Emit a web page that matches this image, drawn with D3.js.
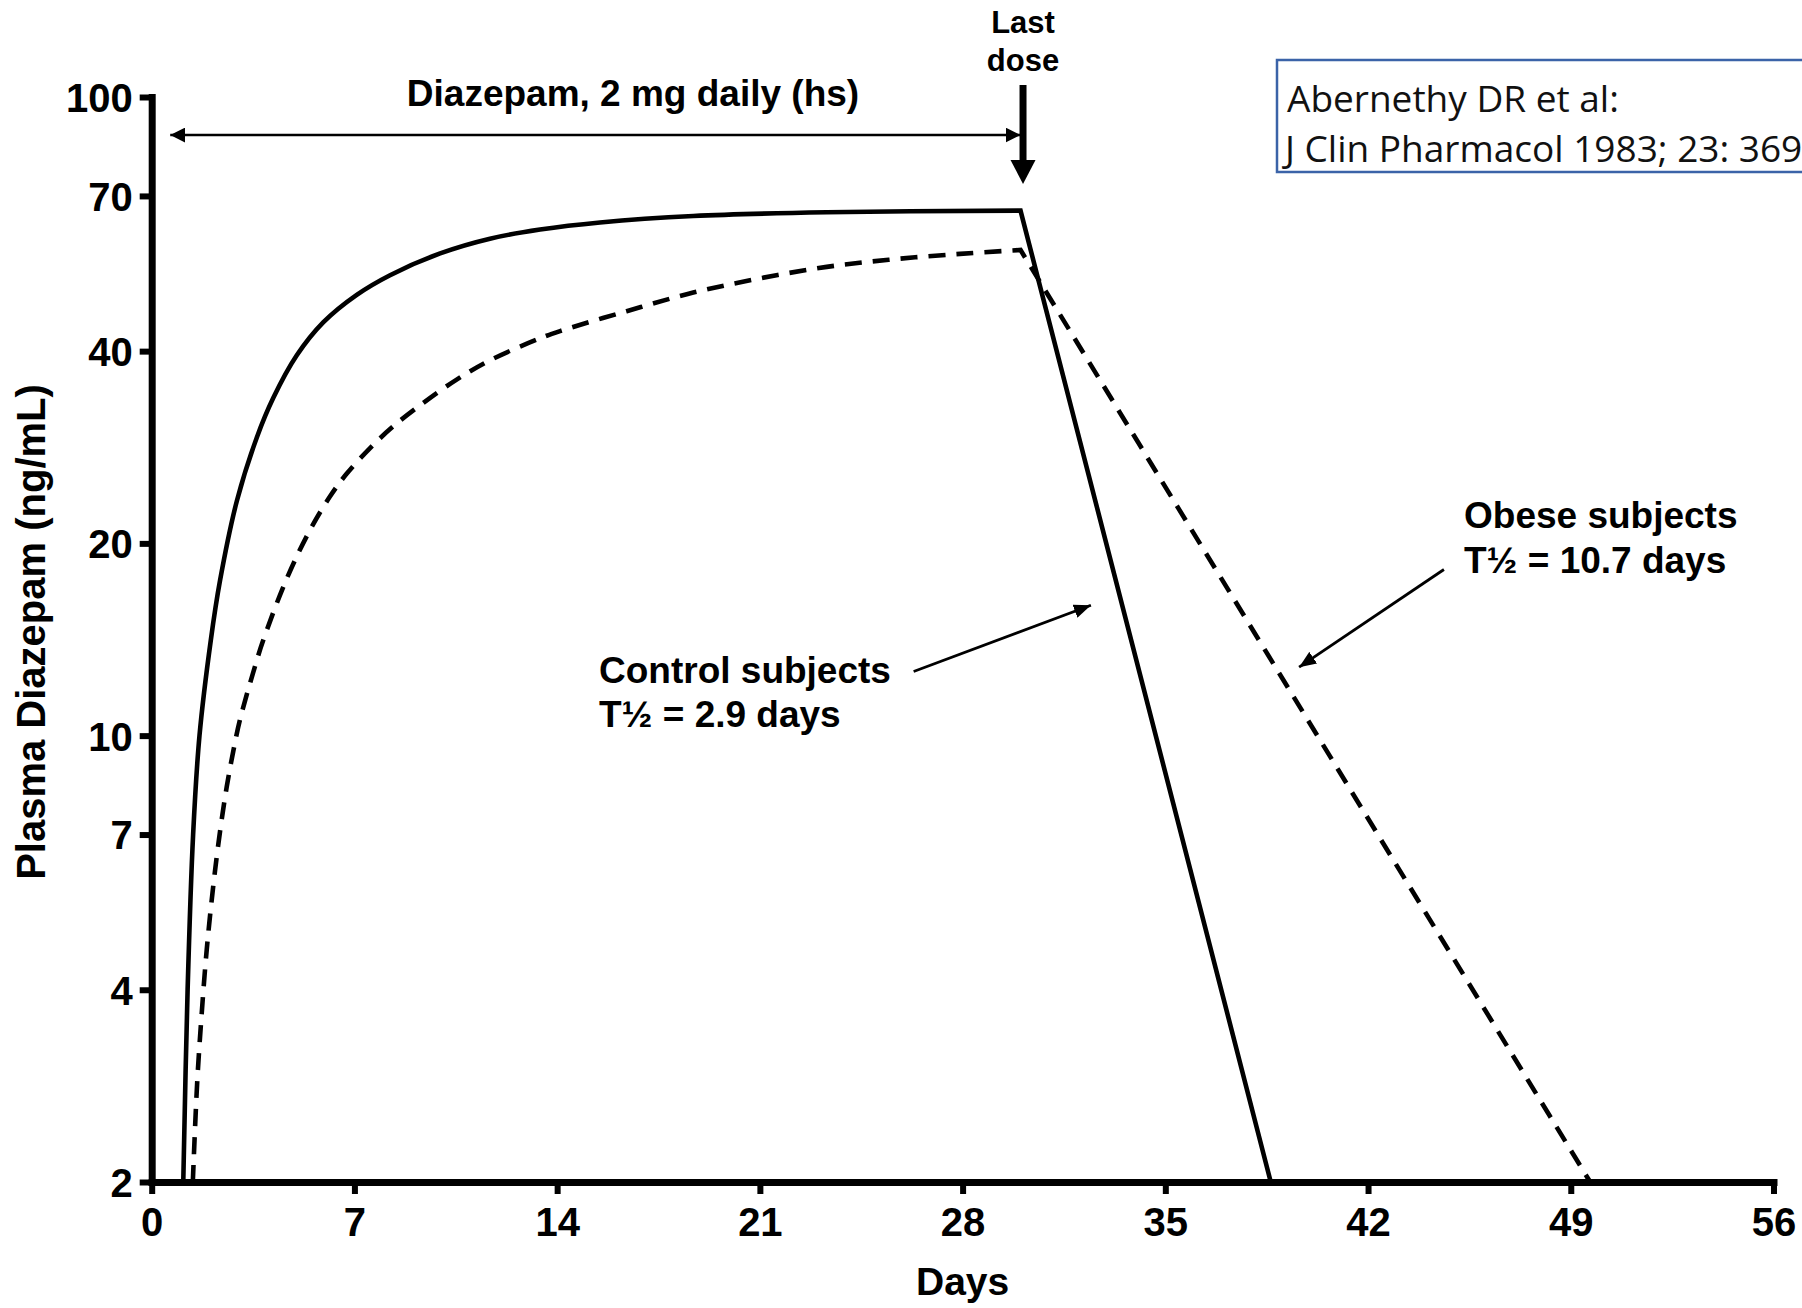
<!DOCTYPE html>
<html>
<head>
<meta charset="utf-8">
<script src="https://cdn.jsdelivr.net/npm/d3@7"></script>
<style>
  html, body { margin: 0; padding: 0; background: #fff; }
  svg { display: block; }
  .bold { font-family: "Liberation Sans", Arial, Helvetica, sans-serif; font-weight: bold; fill: #000; }
</style>
</head>
<body>
<svg id="chart" width="1802" height="1308"></svg>
<script>
// ---------------- DATA ----------------
const xTickValues = [0, 7, 14, 21, 28, 35, 42, 49, 56];
const yTickValues = [2, 4, 7, 10, 20, 40, 70, 100];

// Control subjects (solid): accumulation phase [day, ng/mL]
const controlRiseDays = [1.09, 1.24, 1.43, 1.65, 2.04, 2.36, 2.94, 3.63, 4.20, 5.01, 5.93, 7.08, 8.23, 9.96, 11.68, 13.41, 15.48, 18.70, 23.31, 30.0];
const controlRiseConc = [2.0, 4.0, 7.0, 10.0, 14.1, 17.5, 23.3, 29.3, 33.8, 39.4, 44.4, 49.0, 52.6, 56.9, 60.0, 62.0, 63.6, 65.1, 66.0, 66.4];
// Control subjects: washout phase
const controlDeclineDays = [30.0, 38.64];
const controlDeclineConc = [66.4, 2.0];

// Obese subjects (dashed): accumulation phase
const obeseRiseDays = [1.42, 1.57, 1.73, 1.90, 2.13, 2.36, 2.59, 2.82, 3.05, 3.57, 3.85, 4.66, 5.47, 6.16, 6.73, 7.54, 8.34, 9.38, 10.53, 11.68, 13.41, 14.10, 16.40, 18.70, 21.00, 23.31, 25.61, 27.91, 30.0];
const obeseRiseConc = [2.0, 2.86, 3.69, 4.62, 5.84, 7.08, 8.31, 9.47, 10.6, 12.85, 14.1, 17.6, 21.0, 23.7, 25.7, 28.2, 30.5, 33.2, 36.1, 38.7, 41.9, 43.0, 46.2, 49.4, 52.0, 54.2, 55.7, 56.8, 57.6];
// Obese subjects: washout phase
const obeseDeclineDays = [30.0, 49.67];
const obeseDeclineConc = [57.6, 2.0];

const lastDoseDay = 30;
const dosingStartDay = 0.64;

// ---------------- CHART ----------------
const svg = d3.select("#chart");
svg.append("rect").attr("width", 1802).attr("height", 1308).attr("fill", "#fff");

const x = d3.scaleLinear().domain([0, 56]).range([151.7, 1773.5]);
const y = d3.scaleLog().domain([2, 100]).range([1182, 97]);

const zip = (a, b) => a.map((d, i) => ({ day: d, conc: b[i] }));

// defs: arrowheads
const defs = svg.append("defs");
function marker(id, len, wid) {
  defs.append("marker")
    .attr("id", id)
    .attr("viewBox", `0 0 ${len} ${wid}`)
    .attr("refX", len).attr("refY", wid / 2)
    .attr("markerWidth", len).attr("markerHeight", wid)
    .attr("markerUnits", "userSpaceOnUse")
    .attr("orient", "auto-start-reverse")
    .append("path")
    .attr("d", `M0,0 L${len},${wid / 2} L0,${wid} Z`)
    .attr("fill", "#000");
}
marker("arrSmall", 15, 15);
marker("arrAnno", 17, 14);

// Axes
const xAxis = d3.axisBottom(x).tickValues(xTickValues).tickSize(12).tickSizeOuter(0).tickPadding(14);
const yAxis = d3.axisLeft(y).tickValues(yTickValues).tickFormat(d3.format("d")).tickSize(12).tickSizeOuter(0).tickPadding(7);

const gx = svg.append("g").attr("transform", `translate(0,${y(2)})`).call(xAxis);
const gy = svg.append("g").attr("transform", `translate(${x(0)},0)`).call(yAxis);

[gx, gy].forEach(g => {
  g.select(".domain").attr("stroke", "#000").attr("stroke-width", 7).attr("stroke-linecap", "square");
  g.selectAll(".tick line").attr("stroke", "#000").attr("stroke-width", 6);
  g.selectAll(".tick text")
    .attr("class", "bold")
    .style("font-family", '"Liberation Sans", Arial, sans-serif')
    .style("font-weight", "bold")
    .style("font-size", "40px")
    .attr("fill", "#000");
});
gy.selectAll(".tick text").attr("dy", "0.36em");

// Axis titles
svg.append("text").attr("class", "bold")
  .attr("x", x(28)).attr("y", 1295)
  .attr("text-anchor", "middle")
  .style("font-size", "39px")
  .text("Days");

svg.append("text").attr("class", "bold")
  .attr("transform", `translate(45,632) rotate(-90)`)
  .attr("text-anchor", "middle")
  .style("font-size", "40px")
  .text("Plasma Diazepam (ng/mL)");

// Curves
const riseGen = d3.line().x(d => x(d.day)).y(d => y(d.conc)).curve(d3.curveCatmullRom.alpha(0.5));
const linGen = d3.line().x(d => x(d.day)).y(d => y(d.conc));

function curvePath(rise, decline) {
  return riseGen(rise) + linGen(decline).replace(/^M/, "L");
}

svg.append("path")
  .attr("d", curvePath(zip(controlRiseDays, controlRiseConc), zip(controlDeclineDays, controlDeclineConc)))
  .attr("fill", "none").attr("stroke", "#000").attr("stroke-width", 4.6)
  .attr("stroke-linejoin", "miter");

svg.append("path")
  .attr("d", curvePath(zip(obeseRiseDays, obeseRiseConc), zip(obeseDeclineDays, obeseDeclineConc)))
  .attr("fill", "none").attr("stroke", "#000").attr("stroke-width", 4.6)
  .attr("stroke-dasharray", "17,11");

// Dosing period double arrow
svg.append("line")
  .attr("x1", x(dosingStartDay)).attr("x2", x(lastDoseDay))
  .attr("y1", 135).attr("y2", 135)
  .attr("stroke", "#000").attr("stroke-width", 2.5)
  .attr("marker-start", "url(#arrSmall)")
  .attr("marker-end", "url(#arrSmall)");

svg.append("text").attr("class", "bold")
  .attr("x", 633).attr("y", 106)
  .attr("text-anchor", "middle")
  .style("font-size", "37px")
  .text("Diazepam, 2 mg daily (hs)");

// Last dose
const ldx = x(lastDoseDay) + 2.5;
svg.append("text").attr("class", "bold")
  .attr("x", ldx).attr("y", 33)
  .attr("text-anchor", "middle").style("font-size", "31px").text("Last");
svg.append("text").attr("class", "bold")
  .attr("x", ldx).attr("y", 71)
  .attr("text-anchor", "middle").style("font-size", "31px").text("dose");
svg.append("line")
  .attr("x1", ldx).attr("x2", ldx).attr("y1", 85).attr("y2", 163)
  .attr("stroke", "#000").attr("stroke-width", 7);
svg.append("path")
  .attr("d", `M${ldx - 12.5},160 L${ldx + 12.5},160 L${ldx},184 Z`)
  .attr("fill", "#000");

// Annotations
const ctl = svg.append("text").attr("class", "bold").style("font-size", "37px");
ctl.append("tspan").attr("x", 599).attr("y", 683).text("Control subjects");
ctl.append("tspan").attr("x", 599).attr("y", 727).text("T½ = 2.9 days");
svg.append("line")
  .attr("x1", x(26.31)).attr("y1", y(12.6))
  .attr("x2", x(32.43)).attr("y2", y(16.0))
  .attr("stroke", "#000").attr("stroke-width", 2.8)
  .attr("marker-end", "url(#arrAnno)");

const obs = svg.append("text").attr("class", "bold").style("font-size", "37px");
obs.append("tspan").attr("x", 1464).attr("y", 528).text("Obese subjects");
obs.append("tspan").attr("x", 1464).attr("y", 573).text("T½ = 10.7 days");
svg.append("line")
  .attr("x1", x(44.62)).attr("y1", y(18.2))
  .attr("x2", x(39.62)).attr("y2", y(12.8))
  .attr("stroke", "#000").attr("stroke-width", 2.8)
  .attr("marker-end", "url(#arrAnno)");

// Citation box
svg.append("rect")
  .attr("x", 1277).attr("y", 60).attr("width", 620).attr("height", 112)
  .attr("fill", "#fff").attr("stroke", "#3B63A8").attr("stroke-width", 2.5);
const cite = svg.append("text")
  .style("font-family", '"Open Sans", "Noto Sans", sans-serif')
  .style("font-size", "37px").attr("fill", "#111");
cite.append("tspan").attr("x", 1287).attr("y", 112).text("Abernethy DR et al:");
cite.append("tspan").attr("x", 1285).attr("y", 162).text("J Clin Pharmacol 1983; 23: 369");
</script>
</body>
</html>
